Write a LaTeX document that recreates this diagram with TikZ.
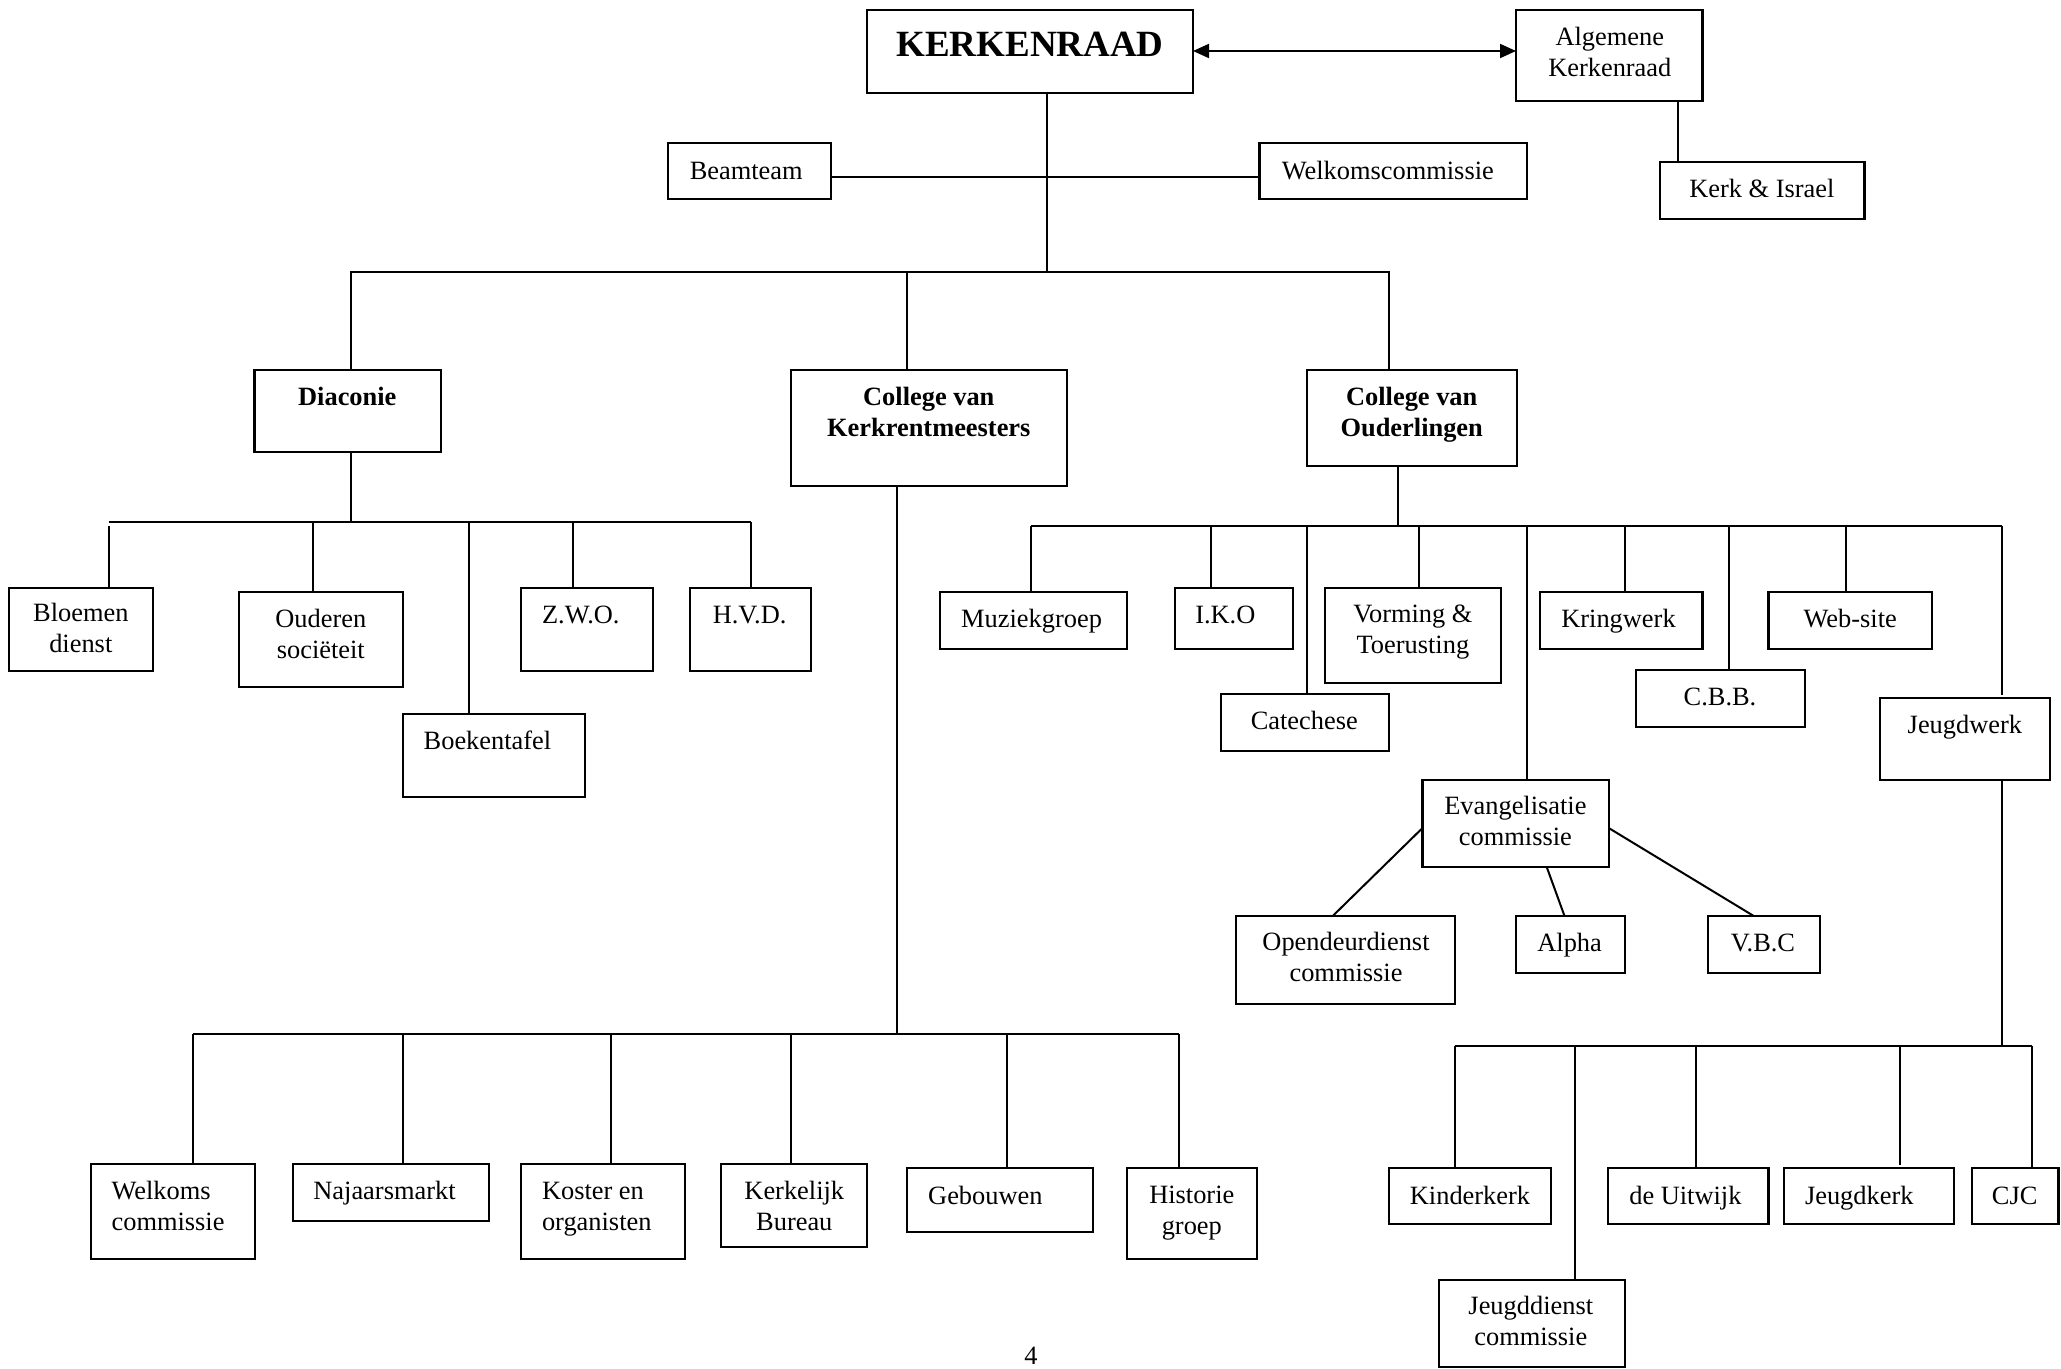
\documentclass[tikz,border=0pt]{standalone}
\usepackage{fontspec}
\setmainfont{Liberation Serif}
\usetikzlibrary{arrows.meta}
\tikzset{
 box/.style={draw=black, line width=1.1pt, inner sep=0pt, outer sep=0pt, rectangle},
 txt/.style={inner sep=0pt, outer sep=0pt, font=\fontsize{13.2pt}{15.5pt}\selectfont},
 btxt/.style={txt, font=\fontsize{13.2pt}{15.5pt}\selectfont\bfseries},
 conn/.style={draw=black, line width=1pt},
 tip/.style={{Triangle[length=8pt,width=7pt]}-{Triangle[length=8pt,width=7pt]}},
}
\newcommand\mybox[5]{\node[box, minimum width={(#4-#2)*0.5pt}, minimum height={(#5-#3)*0.5pt}] (#1) at ({(#2+#4)/2},{(#3+#5)/2}) {};}
\begin{document}
\begin{tikzpicture}[x=0.5pt,y=-0.5pt]
\useasboundingbox[fill=white] (0,0) rectangle (2061,1369);
% boxes
\mybox{kr}{866.6}{10}{1193}{92.7}
\mybox{ak}{1516}{10}{1702.4}{100.7}
\mybox{ki}{1660}{162}{1864.5}{218.7}
\mybox{bt}{668}{143}{831}{199}
\mybox{wc}{1259.5}{143}{1527}{199}
\mybox{dia}{254.5}{370}{441}{452}
\mybox{cvk}{790.7}{370}{1066.6}{486.3}
\mybox{cvo}{1306.8}{370}{1516.7}{466}
\mybox{bl}{9}{588}{153}{670.7}
\mybox{ou}{238.8}{592}{403}{686.7}
\mybox{bk}{402.7}{714}{585}{797}
\mybox{zwo}{521}{588}{653}{671}
\mybox{hvd}{690}{588}{811}{671}
\mybox{mz}{940}{592}{1127}{648.7}
\mybox{iko}{1174.6}{588}{1293}{648.7}
\mybox{cat}{1220.6}{694}{1389}{750.7}
\mybox{vt}{1325}{588}{1501}{682.7}
\mybox{kw}{1540}{592}{1702.4}{648.7}
\mybox{cbb}{1636.3}{670}{1804.6}{726.7}
\mybox{ws}{1768.5}{592}{1932.3}{648.7}
\mybox{jw}{1880}{698}{2050}{780}
\mybox{ev}{1422.5}{780}{1608.7}{866.7}
\mybox{od}{1236}{916}{1455}{1004.3}
\mybox{al}{1516.25}{916}{1624.7}{972.7}
\mybox{vbc}{1708.2}{916}{1820.3}{972.7}
\mybox{wk}{90.6}{1164.3}{255}{1258.7}
\mybox{nj}{292.9}{1164.3}{489.3}{1220.7}
\mybox{ko}{521}{1164.3}{685.3}{1258.7}
\mybox{kb}{721}{1164.3}{867}{1246.7}
\mybox{gb}{906.8}{1168.3}{1093}{1232.3}
\mybox{hg}{1126.9}{1168.3}{1257.2}{1258.7}
\mybox{kk}{1388.6}{1168.3}{1550.6}{1224}
\mybox{ju}{1608.2}{1168.3}{1768.5}{1224}
\mybox{jk}{1783.7}{1168.3}{1954.2}{1224}
\mybox{cjc}{1971.6}{1168.3}{2058.5}{1224}
\mybox{jd}{1438.6}{1280}{1624.7}{1367}
% texts (multi-line nodes are anchored at the baseline of their last line)
\node[txt,font=\fontsize{18.5pt}{22pt}\selectfont\bfseries,anchor=base] (t-kr) at (1030,56.7) {KERKENRAAD};
\node[txt,align=center,anchor=base] (t-ak) at (1609.8,76.5) {Algemene\\Kerkenraad};
\node[txt,anchor=base] (t-ki) at (1761.8,197.3) {Kerk \& Israel};
\node[txt,anchor=base west] (t-bt) at (689.8,179.3) {Beamteam};
\node[txt,anchor=base west] (t-wc) at (1281.8,179.3) {Welkomscommissie};
\node[btxt,anchor=base] (t-dia) at (347.3,406) {Diaconie};
\node[btxt,align=center,anchor=base] (t-cvk) at (928.8,437) {College van\\Kerkrentmeesters};
\node[btxt,align=center,anchor=base] (t-cvo) at (1411.7,437) {College van\\Ouderlingen};
\node[txt,align=center,anchor=base] (t-bl) at (80.8,652.7) {Bloemen\\dienst};
\node[txt,align=center,anchor=base] (t-ou) at (320.8,658.5) {Ouderen\\sociëteit};
\node[txt,anchor=base west] (t-bk) at (423.7,749.3) {Boekentafel};
\node[txt,anchor=base] (t-zwo) at (580.8,623.7) {Z.W.O.};
\node[txt,anchor=base] (t-hvd) at (749.6,623.7) {H.V.D.};
\node[txt,anchor=base] (t-mz) at (1031.6,627.7) {Muziekgroep};
\node[txt,anchor=base] (t-iko) at (1225.3,623.7) {I.K.O};
\node[txt,anchor=base] (t-cat) at (1304.3,729.3) {Catechese};
\node[txt,align=center,anchor=base] (t-vt) at (1412.9,653.5) {Vorming \&\\Toerusting};
\node[txt,anchor=base] (t-kw) at (1618.5,627.7) {Kringwerk};
\node[txt,anchor=base] (t-cbb) at (1720,705.7) {C.B.B.};
\node[txt,anchor=base] (t-ws) at (1850.2,627.7) {Web-site};
\node[txt,anchor=base] (t-jw) at (1964.9,733.3) {Jeugdwerk};
\node[txt,align=center,anchor=base] (t-ev) at (1515.4,845) {Evangelisatie\\commissie};
\node[txt,align=center,anchor=base] (t-od) at (1346,981.7) {Opendeurdienst\\commissie};
\node[txt,anchor=base] (t-al) at (1569.6,951.7) {Alpha};
\node[txt,anchor=base] (t-vbc) at (1763,951.7) {V.B.C};
\node[txt,align=left,anchor=base west] (t-wk) at (111.6,1230) {Welkoms\\commissie};
\node[txt,anchor=base west] (t-nj) at (313.4,1199) {Najaarsmarkt};
\node[txt,align=left,anchor=base west] (t-ko) at (542,1230) {Koster en\\organisten};
\node[txt,align=center,anchor=base] (t-kb) at (794.3,1230) {Kerkelijk\\Bureau};
\node[txt,anchor=base west] (t-gb) at (928.2,1204) {Gebouwen};
\node[txt,align=center,anchor=base] (t-hg) at (1191.8,1234) {Historie\\groep};
\node[txt,anchor=base] (t-kk) at (1470,1204) {Kinderkerk};
\node[txt,anchor=base] (t-ju) at (1685.4,1204) {de Uitwijk};
\node[txt,anchor=base west] (t-jk) at (1805,1204) {Jeugdkerk};
\node[txt,anchor=base] (t-cjc) at (2014.7,1204) {CJC};
\node[txt,align=center,anchor=base] (t-jd) at (1530.8,1345) {Jeugddienst\\commissie};
\node[txt,anchor=base] (t-pg) at (1031,1364) {4};
% connectors
\draw[conn,tip] (kr.east |- 0,51) -- (ak.west |- 0,51);
\draw[conn] (1678.3,0 |- ak.south) -- (1678.3,0 |- ki.north);
\draw[conn] (1047,0 |- kr.south) -- (1047,272);
\draw[conn] (bt.east |- 0,177) -- (wc.west |- 0,177);
\draw[conn] (351,0 |- dia.north) -- (351,272) -- (1389,272) -- (1389,0 |- cvo.north);
\draw[conn] (907,272) -- (907,0 |- cvk.north);
% Diaconie
\draw[conn] (351,0 |- dia.south) -- (351,522);
\draw[conn] (108.5,522) -- (750.5,522);
\draw[conn] (108.5,526) -- (108.5,0 |- bl.north);
\draw[conn] (312.5,522) -- (312.5,0 |- ou.north);
\draw[conn] (468.75,522) -- (468.75,0 |- bk.north);
\draw[conn] (572.8,522) -- (572.8,0 |- zwo.north);
\draw[conn] (750.5,522) -- (750.5,0 |- hvd.north);
% Kerkrentmeesters
\draw[conn] (897,0 |- cvk.south) -- (897,1034.3);
\draw[conn] (192.9,1034.3) -- (1178.7,1034.3);
\draw[conn] (192.9,1034.3) -- (192.9,0 |- wk.north);
\draw[conn] (402.7,1034.3) -- (402.7,0 |- nj.north);
\draw[conn] (610.7,1034.3) -- (610.7,0 |- ko.north);
\draw[conn] (790.7,1034.3) -- (790.7,0 |- kb.north);
\draw[conn] (1006.8,1034.3) -- (1006.8,0 |- gb.north);
\draw[conn] (1178.7,1034.3) -- (1178.7,0 |- hg.north);
% Ouderlingen
\draw[conn] (1398.4,0 |- cvo.south) -- (1398.4,526.3);
\draw[conn] (1031,526.3) -- (2002,526.3);
\draw[conn] (1031,526.3) -- (1031,0 |- mz.north);
\draw[conn] (1210.8,526.3) -- (1210.8,0 |- iko.north);
\draw[conn] (1306.8,526.3) -- (1306.8,0 |- cat.north);
\draw[conn] (1418.5,526.3) -- (1418.5,0 |- vt.north);
\draw[conn] (1526.5,526.3) -- (1526.5,0 |- ev.north);
\draw[conn] (1624.7,526.3) -- (1624.7,0 |- kw.north);
\draw[conn] (1728.75,526.3) -- (1728.75,0 |- cbb.north);
\draw[conn] (1846,526.3) -- (1846,0 |- ws.north);
\draw[conn] (2002,526.3) -- (2002,695);
% Evangelisatie
\draw[conn] (ev.west |- 0,828) -- (1332.7,0 |- od.north);
\draw[conn] (1546.6,0 |- ev.south) -- (1564.5,0 |- al.north);
\draw[conn] (ev.east |- 0,828) -- (1753.75,0 |- vbc.north);
% Jeugdwerk
\draw[conn] (2002,0 |- jw.south) -- (2002,1045.7);
\draw[conn] (1454.6,1045.7) -- (2031.9,1045.7);
\draw[conn] (1454.6,1045.7) -- (1454.6,0 |- kk.north);
\draw[conn] (1574.7,1045.7) -- (1574.7,0 |- jd.north);
\draw[conn] (1696,1045.7) -- (1696,0 |- ju.north);
\draw[conn] (1900.2,1045.7) -- (1900.2,1165);
\draw[conn] (2031.9,1045.7) -- (2031.9,0 |- cjc.north);
\end{tikzpicture}
\end{document}
